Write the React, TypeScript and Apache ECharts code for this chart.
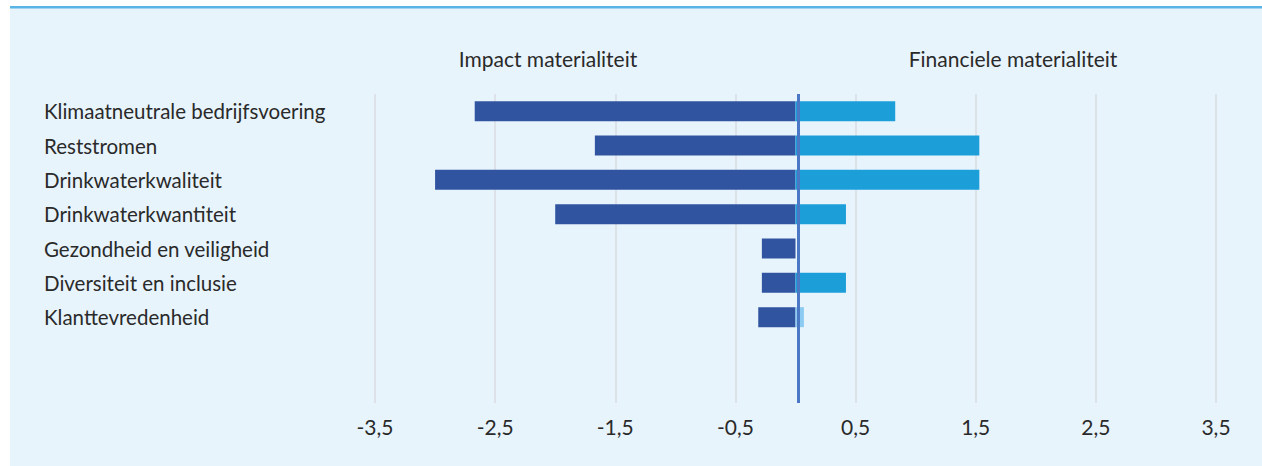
import React, { useEffect, useRef } from "react";
import * as echarts from "echarts";

const categories = [
  "Klimaatneutrale bedrijfsvoering",
  "Reststromen",
  "Drinkwaterkwaliteit",
  "Drinkwaterkwantiteit",
  "Gezondheid en veiligheid",
  "Diversiteit en inclusie",
  "Klanttevredenheid",
  "",
  "",
];
const impactValues = [-2.67, -1.67, -3.0, -2.0, -0.28, -0.28, -0.31, null, null];
const financialValues = [0.83, 1.53, 1.53, 0.42, null, 0.42, 0.07, null, null];
const tickMin = -3.5;
const tickMax = 3.5;
const tickStep = 1;
const headers = ["Impact materialiteit", "Financiele materialiteit"];

const FONT = "Lato";

export default function App() {
  const ref = useRef<HTMLDivElement>(null);
  useEffect(() => {
    document.body.style.margin = "0";
    const chart = echarts.init(ref.current!, null, { renderer: "svg" });
    const finData = financialValues.map((v, i) =>
      i === 6 && v != null
        ? { value: v, itemStyle: { color: "#8ccbf2" } }
        : v
    );
    chart.setOption({
      animation: false,
      backgroundColor: "#ffffff",
      textStyle: { fontFamily: FONT },
      graphic: [
        {
          type: "rect",
          z: -10,
          shape: { x: 10, y: 8, width: 1252, height: 458 },
          style: { fill: "#e8f4fc" },
        },
        {
          type: "rect",
          z: -9,
          shape: { x: 10, y: 6, width: 1252, height: 2.5 },
          style: { fill: "#5ab4e6" },
        },
        {
          type: "text",
          x: 548,
          y: 58,
          style: {
            text: headers[0],
            fill: "#2a2a2a",
            font: `21px ${FONT}`,
            textAlign: "center",
            textVerticalAlign: "middle",
          },
        },
        {
          type: "text",
          x: 1013,
          y: 58,
          style: {
            text: headers[1],
            fill: "#2a2a2a",
            font: `21px ${FONT}`,
            textAlign: "center",
            textVerticalAlign: "middle",
          },
        },
      ],
      grid: { left: 375, right: 1262 - 1216, top: 94, height: 309 },
      xAxis: {
        type: "value",
        min: tickMin,
        max: tickMax,
        interval: tickStep,
        axisLine: { show: false },
        axisTick: { show: false },
        splitLine: { show: true, lineStyle: { color: "#d9dde2", width: 1.5 } },
        axisLabel: {
          color: "#2a2a2a",
          fontSize: 21,
          fontFamily: FONT,
          margin: 13,
          formatter: (v: number) => String(Math.round(v * 10) / 10).replace(".", ","),
        },
      },
      yAxis: {
        type: "category",
        inverse: true,
        data: categories,
        axisLine: { show: false },
        axisTick: { show: false },
        axisLabel: {
          align: "left",
          margin: 375 - 44,
          color: "#2a2a2a",
          fontSize: 20.5,
          fontFamily: FONT,
        },
      },
      series: [
        {
          name: "Impact materialiteit",
          type: "bar",
          stack: "a",
          barWidth: 20,
          data: impactValues,
          itemStyle: { color: "#3154a0" },
          markLine: {
            silent: true,
            symbol: "none",
            label: { show: false },
            lineStyle: { color: "#4a78c4", width: 3, type: "solid" },
            data: [{ xAxis: 0.018 }],
            z: 10,
          },
        },
        {
          name: "Financiele materialiteit",
          type: "bar",
          stack: "a",
          barWidth: 20,
          data: finData,
          itemStyle: { color: "#1c9fd9" },
        },
      ],
    });
    return () => chart.dispose();
  }, []);
  return <div ref={ref} style={{ width: 1262, height: 466 }} />;
}
